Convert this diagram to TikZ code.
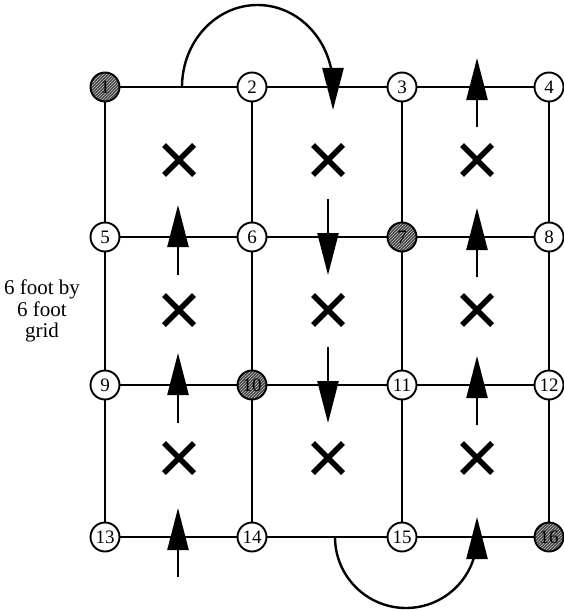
\documentclass[tikz,border=0pt]{standalone}
\usepackage{fontspec}
\setmainfont{Liberation Serif}
\usetikzlibrary{arrows.meta,patterns}
\begin{document}
\begin{tikzpicture}[x=1pt,y=-1pt,
  pt/.style={circle,draw,line width=1.9pt,fill=white,minimum size=29pt,inner sep=0pt,
    font=\fontsize{19}{19}\selectfont},
  shaded/.style={pt,preaction={fill=black!72},pattern=north east lines,pattern color=white!75!black},
  gridline/.style={line width=2pt},
  mv/.style={line width=2.4pt,-{Triangle[width=21pt,length=42pt]}},
  xmark/.style={line width=5.5pt}]
\useasboundingbox (0,0) rectangle (564,610);
% grid coordinates
\foreach \c/\xx in {1/105,2/252,3/402,4/549}{
  \foreach \r/\yy in {0/87,1/237,2/385,3/537}{
    \coordinate (p\r\c) at (\xx,\yy);
  }
}
% grid lines
\draw[gridline] (p01) -- (p04) (p11) -- (p14) (p21) -- (p24) (p31) -- (p34);
\draw[gridline] (p01) -- (p31) (p02) -- (p32) (p03) -- (p33) (p04) -- (p34);
% nodes
\node[shaded] (n1) at (p01) {1};
\node[pt] (n2) at (p02) {2};
\node[pt] (n3) at (p03) {3};
\node[pt] (n4) at (p04) {4};
\node[pt] (n5) at (p11) {5};
\node[pt] (n6) at (p12) {6};
\node[shaded] (n7) at (p13) {7};
\node[pt] (n8) at (p14) {8};
\node[pt] (n9) at (p21) {9};
\node[shaded] (n10) at (p22) {10};
\node[pt] (n11) at (p23) {11};
\node[pt] (n12) at (p24) {12};
\node[pt] (n13) at (p31) {13};
\node[pt] (n14) at (p32) {14};
\node[pt] (n15) at (p33) {15};
\node[shaded] (n16) at (p34) {16};
% X marks
\foreach \xx in {179,328,477}{
  \foreach \yy in {160,310,458}{
    \draw[xmark] (\xx-15,\yy-15) -- (\xx+15,\yy+15) (\xx-15,\yy+15) -- (\xx+15,\yy-15);
  }
}
% column 1 up arrows
\foreach \yy in {237,385}{
  \draw[mv] (178,\yy+38) -- (178,\yy-32);
}
\draw[mv] (178,577) -- (178,508);
% column 3 up arrows
\foreach \yy in {87,237,385}{
  \draw[mv] (477,\yy+40) -- (477,\yy-29);
}
% column 2 down arrows
\foreach \yy in {237,385}{
  \draw[mv] (328,\yy-38) -- (328,\yy+38);
}
% top arc
\draw[mv] (182,87) arc[start angle=180,end angle=0,x radius=75.5,y radius=-82] -- (333,110);
% bottom arc
\draw[mv] (335,537) arc[start angle=180,end angle=360,x radius=71,y radius=-71] -- (477,517);
% label
\node[align=center,font=\fontsize{21}{21.5}\selectfont] (lbl) at (42,311) {6 foot by\\6 foot\\grid};
\end{tikzpicture}
\end{document}
